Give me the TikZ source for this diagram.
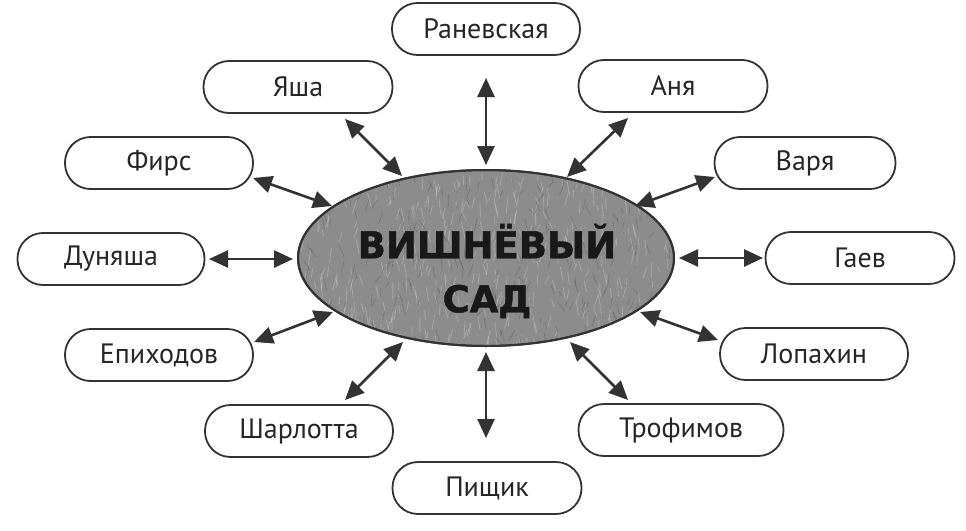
\documentclass[tikz,border=0pt]{standalone}
\usepackage{fontspec}
\setmainfont{PT Sans}
\newfontfamily\titlefont{DejaVu Sans}[FakeBold=1.2]
\usetikzlibrary{arrows.meta,shapes.geometric}
\definecolor{linec}{HTML}{333333}
\definecolor{textc}{HTML}{262626}
\definecolor{gardenfill}{HTML}{8C8C8C}
\begin{document}
\begin{tikzpicture}[x=1pt,y=-1pt,
  person/.style={draw=linec, line width=1.8pt, rounded corners=25.5pt,
    minimum height=52pt, inner sep=0pt, text=textc,
    font=\fontsize{28}{32}\selectfont},
  link/.style={draw=linec, line width=2.6pt,
    {Triangle[length=19pt,width=17pt]}-{Triangle[length=19pt,width=17pt]}},
  gardenstyle/.style={ellipse, draw=linec, line width=2pt, fill=gardenfill,
    minimum width=376pt, minimum height=176pt, inner sep=0pt},
  titlestyle/.style={align=center, text=black!90,
    font=\titlefont\bfseries\fontsize{37}{54}\selectfont}
]
\useasboundingbox (0,0) rectangle (966,530);
\fill[white] (0,0) rectangle (966,530);

\node[gardenstyle] (garden) at (486,258) {};
\begin{scope}
  \clip (486,258) ellipse [x radius=186, y radius=87];
  \pgfmathsetseed{7}
  \foreach \i in {1,...,420}{
    \pgfmathsetmacro{\px}{300+372*rnd}
    \pgfmathsetmacro{\py}{170+176*rnd}
    \pgfmathsetmacro{\dx}{4*rand}
    \pgfmathsetmacro{\dy}{6+10*rnd}
    \draw[white, opacity=0.22, line width=0.8pt] (\px,\py) -- ++(\dx,\dy);
  }
  \foreach \i in {1,...,250}{
    \pgfmathsetmacro{\px}{300+372*rnd}
    \pgfmathsetmacro{\py}{170+176*rnd}
    \pgfmathsetmacro{\dx}{6*rand}
    \pgfmathsetmacro{\dy}{5+8*rnd}
    \draw[black, opacity=0.15, line width=0.7pt] (\px,\py) -- ++(\dx,\dy);
  }
\end{scope}
\draw[linec, line width=2pt] (486,258) ellipse [x radius=188, y radius=88];
\node[titlestyle] (title) at (487,271) {ВИШНЁВЫЙ\\САД};

\node[person, minimum width=188pt] (ran) at (486,29) {Раневская};
\node[person, minimum width=189pt] (anya) at (673,86) {Аня};
\node[person, minimum width=189pt] (yasha) at (298,87) {Яша};
\node[person, minimum width=181pt] (varya) at (805,163) {Варя};
\node[person, minimum width=188pt] (firs) at (159,163) {Фирс};
\node[person, minimum width=187pt] (dun) at (111,259) {Дуняша};
\node[person, minimum width=189pt] (gaev) at (860,258) {Гаев};
\node[person, minimum width=188pt] (epi) at (159,355) {Епиходов};
\node[person, minimum width=188pt] (lop) at (814,354) {Лопахин};
\node[person, minimum width=188pt] (shar) at (299,431) {Шарлотта};
\node[person, minimum width=205pt] (trof) at (681,430) {Трофимов};
\node[person, minimum width=189pt] (pish) at (487,488) {Пищик};

% arrow ends
\coordinate (ranA) at (486,78);   \coordinate (ranB) at (486,165);
\coordinate (pishA) at (486,438); \coordinate (pishB) at (486,352);
\coordinate (dunA) at (209,259);  \coordinate (dunB) at (293,259);
\coordinate (gaevA) at (763,258); \coordinate (gaevB) at (679,258);
\coordinate (yashaA) at (345,119); \coordinate (yashaB) at (402,176);
\coordinate (firsA) at (253,178);  \coordinate (firsB) at (332,206);
\coordinate (epiA) at (254,342);   \coordinate (epiB) at (333,312);
\coordinate (sharA) at (345,400);  \coordinate (sharB) at (403,342);
\coordinate (anyaA) at (628,118);  \coordinate (anyaB) at (567,177);
\coordinate (varyaA) at (715,177); \coordinate (varyaB) at (635,206);
\coordinate (lopA) at (718,340);   \coordinate (lopB) at (640,312);
\coordinate (trofA) at (628,400);  \coordinate (trofB) at (570,342);

\foreach \n in {ran,pish,dun,gaev,yasha,firs,epi,shar,anya,varya,lop,trof}
  \draw[link] (\n A) -- (\n B);
\end{tikzpicture}
\end{document}
